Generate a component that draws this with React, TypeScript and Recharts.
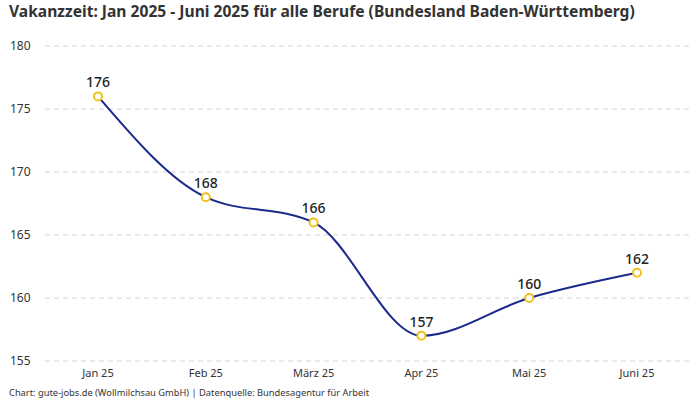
import React from "react";
import { LineChart, Line, XAxis, YAxis, CartesianGrid, LabelList } from "recharts";

const months = ["Jan 25", "Feb 25", "März 25", "Apr 25", "Mai 25", "Juni 25"];
const vacancyDays = [176, 168, 166, 157, 160, 162];
const yTicks = [155, 160, 165, 170, 175, 180];

const data = months.map((m, i) => ({ month: m, days: vacancyDays[i] }));

const FONT = "'Noto Sans', Roboto, sans-serif";
const LINE = "#1b2a8c";
const DOT = "#f2c21b";

function YTick({ y, payload }: any) {
  return (
    <text x={10} y={y} dy={4} fontSize={12} fill="#333" fontFamily={FONT} textAnchor="start">
      {payload.value}
    </text>
  );
}

export default function App() {
  return (
    <div style={{ position: "absolute", left: 0, top: 0, width: 700, height: 400, background: "#fff", fontFamily: FONT }}>
      <div style={{ position: "absolute", left: 9, top: 0, fontSize: 15.6, fontWeight: 700, color: "#333" }}>
        Vakanzzeit: Jan 2025 - Juni 2025 für alle Berufe (Bundesland Baden-Württemberg)
      </div>
      <LineChart width={700} height={400} data={data} margin={{ top: 46, right: 10, bottom: 17, left: 0 }}>
        <CartesianGrid vertical={false} stroke="#d4d4d4" strokeDasharray="5 4" />
        <XAxis
          dataKey="month"
          height={22}
          axisLine={false}
          tickLine={false}
          padding={{ left: 53, right: 53 }}
          tick={{ fontSize: 11, fill: "#333", fontFamily: FONT }}
          interval={0}
        />
        <YAxis
          domain={[155, 180]}
          ticks={yTicks}
          width={45}
          axisLine={false}
          tickLine={false}
          tick={<YTick />}
        />
        <Line
          type="monotone"
          dataKey="days"
          stroke={LINE}
          strokeWidth={2}
          dot={{ r: 4, stroke: DOT, strokeWidth: 2, fill: "#fff" }}
          isAnimationActive={false}
        >
          <LabelList dataKey="days" position="top" offset={9} fontSize={14} fontWeight={500} fill="#222" fontFamily={FONT} />
        </Line>
      </LineChart>
      <div style={{ position: "absolute", left: 9, top: 386, fontSize: 9.3, color: "#333" }}>
        Chart: gute-jobs.de (Wollmilchsau GmbH) | Datenquelle: Bundesagentur für Arbeit
      </div>
    </div>
  );
}
